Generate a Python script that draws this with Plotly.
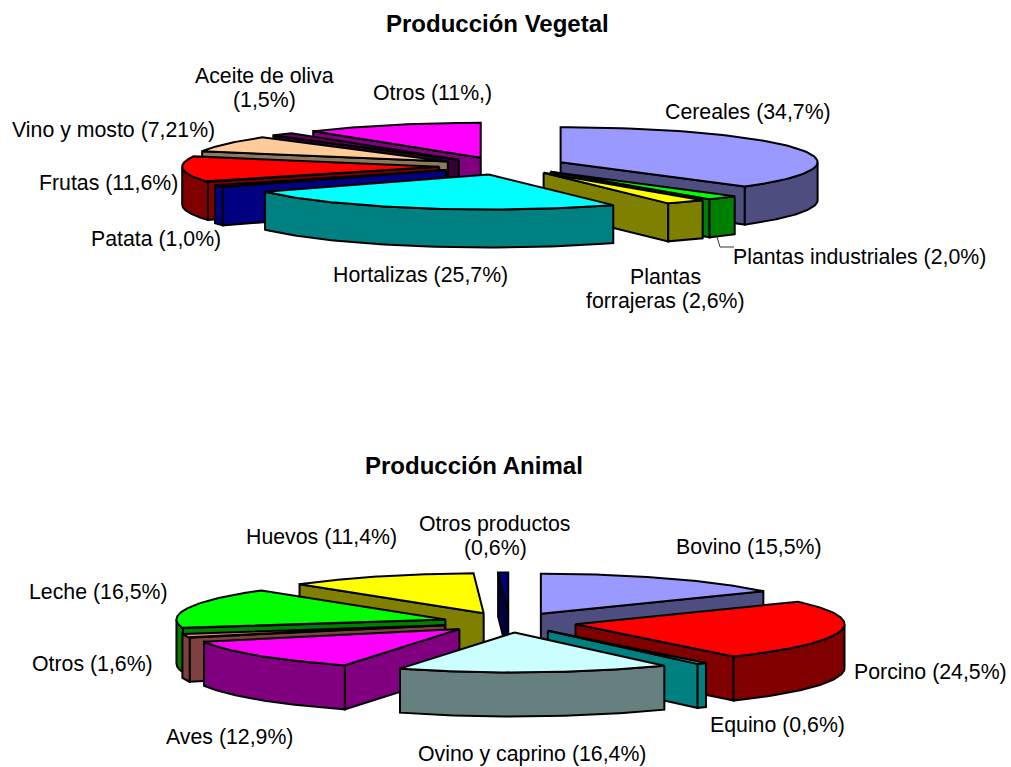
import numpy as np
import plotly.graph_objects as go

# ---- data ----
veg_names = ["Cereales", "Plantas industriales", "Plantas forrajeras", "Hortalizas", "Patata",
             "Frutas", "Vino y mosto", "Aceite de oliva", "Otros"]
veg_values = [34.7, 2.0, 2.6, 25.7, 1.0, 11.6, 7.21, 1.5, 11.0]
veg_tops = ["#9999FF", "#00FF00", "#FFFF00", "#00FFFF", "#0000FF", "#FF0000", "#FFCC99", "#660066", "#FF00FF"]
veg_sides = ["#4D4D80", "#008000", "#808000", "#008080", "#000080", "#800000", "#8C7A5F", "#330033", "#800080"]
veg_labels = ["Cereales (34,7%)", "Plantas industriales (2,0%)", "Plantas<br>forrajeras (2,6%)",
              "Hortalizas (25,7%)", "Patata (1,0%)", "Frutas (11,6%)", "Vino y mosto (7,21%)",
              "Aceite de oliva<br>(1,5%)", "Otros (11%,)"]
veg_label_xy = [(748, 112), (859, 257), (665, 289), (420, 275), (156, 239), (108, 183), (113, 130), (264, 88), (432, 93)]

ani_names = ["Bovino", "Porcino", "Equino", "Ovino y caprino", "Aves", "Otros", "Leche", "Huevos", "Otros productos"]
ani_values = [15.5, 24.5, 0.6, 16.4, 12.9, 1.6, 16.5, 11.4, 0.6]
ani_tops = ["#9999FF", "#FF0000", "#00FFFF", "#CCFFFF", "#FF00FF", "#FF8080", "#00FF00", "#FFFF00", "#000080"]
ani_sides = ["#4D4D80", "#800000", "#008080", "#668080", "#800080", "#804040", "#008000", "#808000", "#000040"]
ani_labels = ["Bovino (15,5%)", "Porcino (24,5%)", "Equino (0,6%)", "Ovino y caprino (16,4%)", "Aves (12,9%)",
              "Otros (1,6%)", "Leche (16,5%)", "Huevos (11,4%)", "Otros productos<br>(0,6%)"]
ani_label_xy = [(749, 547), (930, 672), (777, 725), (532, 754), (229, 737), (92, 664), (98, 592), (321, 537), (495, 536)]

fig = go.Figure()


def poly(xs, ys, fill, name):
    fig.add_trace(go.Scatter(x=xs, y=ys, mode="lines", fill="toself", fillcolor=fill, name=name,
                             line=dict(color="black", width=2), hoverinfo="name", showlegend=False))


def pie3d(names, values, tops, sides, cx, cy, rx, ry, depth, pull, warp=0.0):
    v = np.array(values, dtype=float)
    edges = np.concatenate([[0], np.cumsum(v)]) / v.sum() * 2 * np.pi
    order = sorted(range(len(v)), key=lambda i: -np.cos((edges[i] + edges[i + 1]) / 2))
    k = ry / rx

    # perspective foreshortening of the front-right quarter of the disc
    def persp(t):
        return t - np.radians(warp) * np.sin(2 * t) if np.pi / 2 < t < np.pi else t

    for i in order:
        b = (edges[i] + edges[i + 1]) / 2
        s, e = persp(edges[i]), persp(edges[i + 1])
        ax, ay = cx + pull * np.sin(b), cy - pull * k * np.cos(b)
        px = lambda t: ax + rx * np.sin(t)
        py = lambda t: ay - ry * np.cos(t)
        # radial walls that face the viewer
        if np.sin(s) < 0:
            poly([ax, px(s), px(s), ax, ax], [ay, py(s), py(s) + depth, ay + depth, ay], sides[i], names[i])
        if np.sin(e) > 0:
            poly([ax, px(e), px(e), ax, ax], [ay, py(e), py(e) + depth, ay + depth, ay], sides[i], names[i])
        # outer wall (front half of the rim)
        lo, hi = max(s, np.pi / 2), min(e, 3 * np.pi / 2)
        if hi > lo:
            t = np.linspace(lo, hi, 60)
            poly(np.r_[px(t), px(t[::-1]), px(t[0])], np.r_[py(t), py(t[::-1]) + depth, py(t[0])], sides[i], names[i])
        # top face
        t = np.linspace(s, e, 80)
        poly(np.r_[ax, px(t), ax], np.r_[ay, py(t), ay], tops[i], names[i])


pie3d(veg_names, veg_values, veg_tops, veg_sides, 503, 166, 257, 35, 38, 64, warp=6)
pie3d(ani_names, ani_values, ani_tops, ani_sides, 509.5, 622.5, 269, 40, 44, 67)

# leader line of "Plantas industriales"
fig.add_trace(go.Scatter(x=[717, 720, 734], y=[237, 247, 247], mode="lines",
                         line=dict(color="black", width=0.8), hoverinfo="skip", showlegend=False))

font = dict(family="Liberation Sans, Arial, sans-serif", color="black", size=21.3)
for text, (x, y) in list(zip(veg_labels, veg_label_xy)) + list(zip(ani_labels, ani_label_xy)):
    rows = text.split("<br>")
    for j, row in enumerate(rows):
        fig.add_annotation(x=x, y=y + (j - (len(rows) - 1) / 2) * 24, text=row, showarrow=False, font=font,
                           xanchor="center", yanchor="middle")
title_font = dict(family="Liberation Sans, Arial, sans-serif", color="black", size=24)
fig.add_annotation(x=497, y=23, text="<b>Producción Vegetal</b>", showarrow=False, font=title_font)
fig.add_annotation(x=474, y=465, text="<b>Producción Animal</b>", showarrow=False, font=title_font)

fig.update_layout(width=1011, height=767, margin=dict(l=0, r=0, t=0, b=0), paper_bgcolor="white",
                  plot_bgcolor="white", showlegend=False,
                  xaxis=dict(range=[0, 1011], visible=False, fixedrange=True),
                  yaxis=dict(range=[767, 0], visible=False, fixedrange=True))
fig.write_html("out.html", config=dict(displayModeBar=False),
               post_script="document.body.style.margin='0';document.body.style.overflow='hidden';")
